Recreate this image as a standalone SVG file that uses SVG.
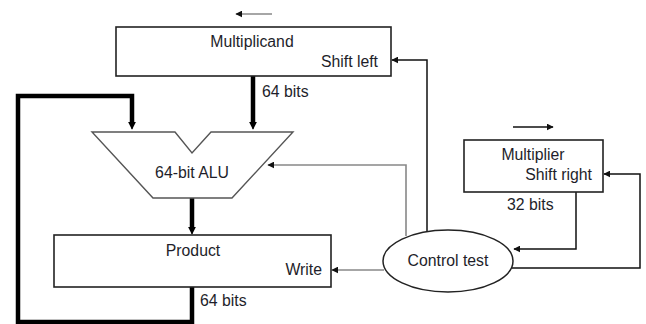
<svg xmlns="http://www.w3.org/2000/svg" width="646" height="324" viewBox="0 0 646 324">
<style>
.box{fill:#fff;stroke:#222;stroke-width:1.6}
.t{font-family:"Liberation Sans",Arial,sans-serif;font-size:15.8px;fill:#1e1e2a}
.thick{fill:none;stroke:#000;stroke-width:4.5}
.thin{fill:none;stroke:#111;stroke-width:1.5}
.gray{fill:none;stroke:#888;stroke-width:1.6}
</style>
<defs>
<marker id="ah" viewBox="0 0 10 10" refX="9" refY="5" markerWidth="7" markerHeight="7" markerUnits="userSpaceOnUse" orient="auto">
<path d="M0,0 L10,5 L0,10 z" fill="#111"/>
</marker>
<marker id="ahb" viewBox="0 0 10 10" refX="9" refY="5" markerWidth="8" markerHeight="8" markerUnits="userSpaceOnUse" orient="auto">
<path d="M0,0 L10,5 L0,10 z" fill="#000"/>
</marker>
</defs>
<g id="connectors">
<path class="thick" d="M253,76 V124" />
<path d="M253,120 L253,129" stroke="#000" stroke-width="1" marker-end="url(#ahb)"/>
<path class="thick" d="M192,285 V322 H18 V96 H132 V124"/>
<path d="M132,120 L132,129" stroke="#000" stroke-width="1" marker-end="url(#ahb)"/>
<path class="thick" d="M192,198 V229"/>
<path d="M192,225 L192,234" stroke="#000" stroke-width="1" marker-end="url(#ahb)"/>
<path class="thin" d="M427,231 V60 H392" marker-end="url(#ah)"/>
<path class="gray" d="M406,236 V165 H268" marker-end="url(#ah)"/>
<path class="gray" d="M384,270 H332" marker-end="url(#ah)"/>
<path class="thin" d="M576,192 V249 H514" marker-end="url(#ah)"/>
<path class="thin" d="M512,268 H640 V174 H604" marker-end="url(#ah)"/>
<path class="gray" d="M272,14 H236" marker-end="url(#ah)"/>
<path class="thin" d="M513,127 H553" marker-end="url(#ah)"/>
</g>
<g id="multiplicand">
<rect class="box" x="116" y="27" width="275" height="49"/>
<text class="t" x="252" y="47" text-anchor="middle">Multiplicand</text>
<text class="t" x="378" y="67" text-anchor="end">Shift left</text>
<text class="t" x="262" y="97">64 bits</text>
</g>
<g id="alu">
<path d="M92,132 H175 L192,153 L211,132 H293 L232,198 H153 Z" fill="#fff" stroke="#555" stroke-width="1.4"/>
<text class="t" x="192" y="178" text-anchor="middle">64-bit ALU</text>
</g>
<g id="product">
<rect class="box" x="54" y="235" width="277" height="52"/>
<text class="t" x="193" y="256" text-anchor="middle">Product</text>
<text class="t" x="322" y="275" text-anchor="end">Write</text>
<text class="t" x="200" y="306">64 bits</text>
</g>
<g id="multiplier">
<rect class="box" x="464" y="140" width="139" height="52"/>
<text class="t" x="533" y="160" text-anchor="middle">Multiplier</text>
<text class="t" x="592" y="180" text-anchor="end">Shift right</text>
<text class="t" x="507" y="210">32 bits</text>
</g>
<g id="control">
<ellipse cx="448" cy="261" rx="65" ry="31" fill="#fff" stroke="#222" stroke-width="1.5"/>
<text class="t" x="448" y="266" text-anchor="middle">Control test</text>
</g>
</svg>
